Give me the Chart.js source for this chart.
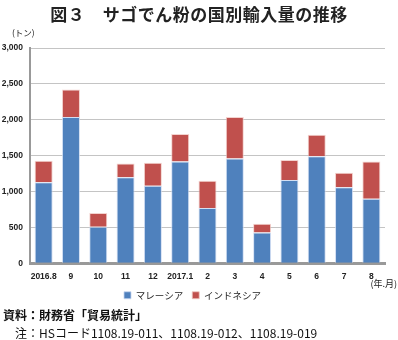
<!DOCTYPE html>
<html>
<head>
<meta charset="utf-8">
<script src="https://cdn.jsdelivr.net/npm/chart.js@4"></script>
<style>
  body { margin: 0; background: #fff; font-family: "Noto Sans CJK JP", sans-serif; }
  #wrap { position: relative; width: 398px; height: 340px; overflow: hidden; }
  #title { position: absolute; left: 0; top: 1px; width: 398px; text-align: center;
           font-size: 17px; font-weight: bold; color: #222; letter-spacing: 0.5px; }
  #box { position: absolute; left: 0; top: 0; width: 398px; height: 310px; }
  .note { position: absolute; font-size: 12px; color: #111; white-space: nowrap; }
</style>
</head>
<body>
<div id="wrap">
  <div id="box"><canvas id="chart"></canvas></div>
  <div id="title">図３　サゴでん粉の国別輸入量の推移</div>
  <div class="note" style="left:3px; top:306px; font-weight:bold;">資料：財務省「貿易統計」</div>
  <div class="note" style="left:15px; top:324px;">注：HSコード1108.19-011、1108.19-012、1108.19-019</div>
</div>
<script>
var months = ["2016.8", "9", "10", "11", "12", "2017.1", "2", "3", "4", "5", "6", "7", "8"];
var malaysia = [1130, 2040, 510, 1200, 1080, 1420, 770, 1460, 430, 1160, 1490, 1060, 900];
var indonesia = [300, 380, 190, 190, 320, 380, 380, 580, 120, 280, 300, 200, 520];
var yTicks = [0, 500, 1000, 1500, 2000, 2500, 3000];

// 単位ラベル「(トン)」「(年.月)」
var unitLabels = {
    id: 'unitLabels',
    afterDraw: function (chart) {
        var c = chart.ctx, a = chart.chartArea;
        c.save();
        c.fillStyle = '#222';
        c.font = '8.5px "Noto Sans CJK JP"';
        c.textBaseline = 'middle';
        c.textAlign = 'left';
        c.fillText('(トン)', 12, a.top - 15);
        c.textAlign = 'right';
        c.font = '9px "Noto Sans CJK JP"';
        c.fillText('(年.月)', 397, a.bottom + 20);
        c.restore();
    }
};

var ctx = document.getElementById("chart");

var myChart = new Chart(ctx, {
    type: 'bar',
    data: {
        labels: months,
        datasets: [{
            label: "マレーシア",
            data: malaysia,
            backgroundColor: '#4F81BD',
            borderColor: 'rgba(200,215,240,0.8)',
            borderWidth: 1,
            categoryPercentage: 1,
            barPercentage: 0.66
        }, {
            label: "インドネシア",
            data: indonesia,
            backgroundColor: '#C0504D',
            borderColor: 'rgba(240,200,195,0.8)',
            borderWidth: 1,
            categoryPercentage: 1,
            barPercentage: 0.66
        }]
    },
    options: {
        responsive: true,
        maintainAspectRatio: false,
        animation: false,
        layout: { padding: { top: 48, left: 0, right: 13, bottom: 0 } },
        plugins: {
            legend: {
                position: 'bottom',
                labels: {
                    boxWidth: 7, boxHeight: 7, padding: 9,
                    color: '#222',
                    font: { size: 9.5, family: '"Noto Sans CJK JP"' }
                }
            },
            tooltip: { enabled: false }
        },
        scales: {
            x: {
                stacked: true,
                grid: { display: false },
                border: { color: '#999', width: 3 },
                ticks: {
                    color: '#222', padding: 0, maxRotation: 0, autoSkip: false,
                    font: { size: 8.5, weight: 'bold', family: 'Arial' }
                }
            },
            y: {
                stacked: true,
                min: 0, max: 3000,
                afterBuildTicks: function (scale) {
                    scale.ticks = yTicks.map(function (v) { return { value: v }; });
                },
                afterFit: function (scale) { scale.width = 30; },
                grid: { color: '#c4c4c4', lineWidth: 1, drawTicks: false },
                border: { color: '#999', width: 2 },
                ticks: {
                    color: '#222', padding: 7,
                    font: { size: 8.5, weight: 'bold', family: 'Arial' },
                    callback: function (v) { return v.toLocaleString('en-US'); }
                }
            }
        }
    },
    plugins: [unitLabels]
});
</script>
</body>
</html>
